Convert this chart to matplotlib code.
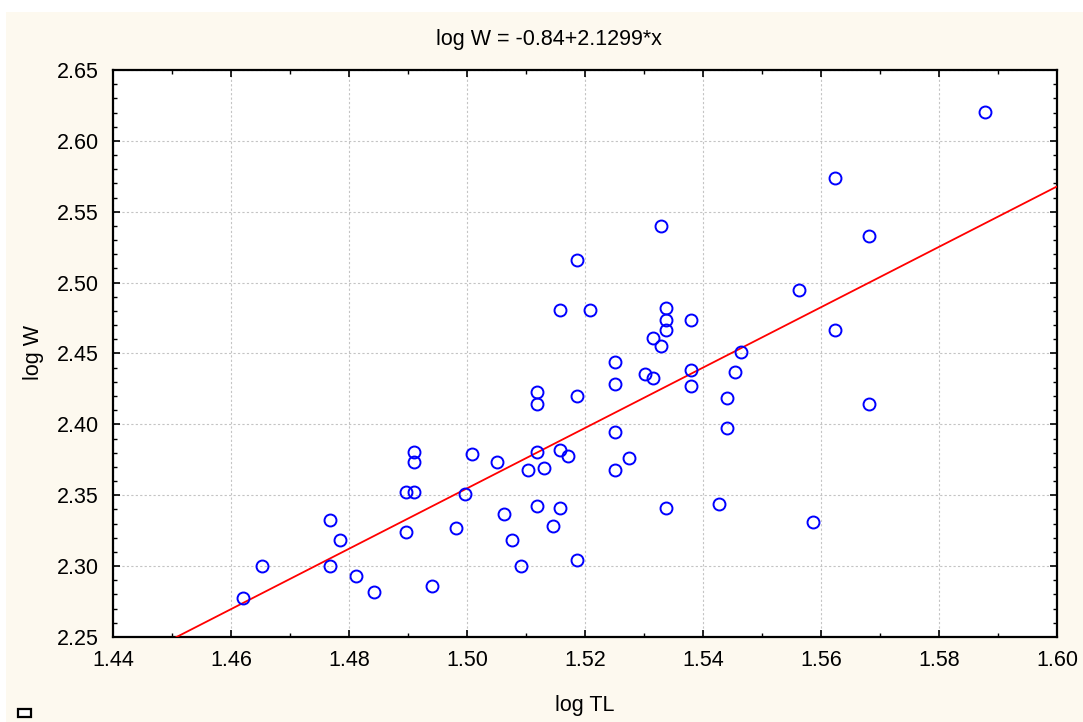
import numpy as np
import matplotlib
matplotlib.use("Agg")
import matplotlib.pyplot as plt
from matplotlib.patches import Rectangle
from matplotlib.ticker import MultipleLocator, FormatStrFormatter

plt.rcParams['font.family'] = ['Liberation Sans', 'DejaVu Sans']

# Log total length vs. log weight
log_tl = [
    1.4621, 1.4653, 1.4768, 1.4768, 1.4785, 1.4812, 1.4843, 1.4897,
    1.4897, 1.4911, 1.4911, 1.4911, 1.4941, 1.4982, 1.4996, 1.5009,
    1.5050, 1.5063, 1.5077, 1.5091, 1.5104, 1.5118, 1.5118, 1.5118,
    1.5118, 1.5131, 1.5145, 1.5158, 1.5158, 1.5158, 1.5172, 1.5186,
    1.5186, 1.5186, 1.5209, 1.5250, 1.5250, 1.5250, 1.5250, 1.5274,
    1.5301, 1.5315, 1.5315, 1.5328, 1.5328, 1.5338, 1.5338, 1.5338,
    1.5338, 1.5379, 1.5379, 1.5379, 1.5427, 1.5440, 1.5440, 1.5454,
    1.5464, 1.5562, 1.5586, 1.5623, 1.5623, 1.5681, 1.5681, 1.5878,
]
log_w = [
    2.2775, 2.3000, 2.3325, 2.3000, 2.3184, 2.2930, 2.2817, 2.3240,
    2.3520, 2.3520, 2.3805, 2.3735, 2.2860, 2.3270, 2.3510, 2.3790,
    2.3735, 2.3368, 2.3184, 2.3000, 2.3678, 2.4228, 2.4144, 2.3805,
    2.3424, 2.3692, 2.3283, 2.4807, 2.3819, 2.3410, 2.3777, 2.5160,
    2.4200, 2.3043, 2.4807, 2.4440, 2.4285, 2.3946, 2.3678, 2.3763,
    2.4355, 2.4610, 2.4327, 2.4553, 2.5400, 2.4820, 2.4736, 2.4666,
    2.3410, 2.4736, 2.4384, 2.4270, 2.3438, 2.4186, 2.3974, 2.4370,
    2.4510, 2.4948, 2.3311, 2.5738, 2.4666, 2.5329, 2.4144, 2.6204,
]

# Fitted regression: log W = a + b * log TL
intercept = -0.84
slope = 2.1299

x_lim = (1.44, 1.60)
y_lim = (2.25, 2.65)

W, H = 1083, 722
fig = plt.figure(figsize=(W / 100, H / 100), dpi=100)
fig.patch.set_facecolor('white')

# cream panel behind the plot
fig.patches.append(Rectangle((6 / W, 0), 1 - 6 / W, 1 - 12 / H,
                             transform=fig.transFigure, facecolor='#fdf9ef',
                             edgecolor='none', zorder=-10))

ax = fig.add_axes([113 / W, (H - 637) / H, 944 / W, 567 / H])
ax.set_facecolor('white')

xs = np.array(x_lim)
ax.plot(xs, intercept + slope * xs, color='red', lw=1.3, zorder=3)
ax.plot(log_tl, log_w, linestyle='none', marker='o', markersize=8.6,
        markerfacecolor='none', markeredgecolor='blue', markeredgewidth=1.4,
        zorder=4)

ax.set_xlim(*x_lim)
ax.set_ylim(*y_lim)
ax.xaxis.set_major_locator(MultipleLocator(0.02))
ax.xaxis.set_minor_locator(MultipleLocator(0.01))
ax.yaxis.set_major_locator(MultipleLocator(0.05))
ax.yaxis.set_minor_locator(MultipleLocator(0.01))
ax.xaxis.set_major_formatter(FormatStrFormatter('%.2f'))
ax.yaxis.set_major_formatter(FormatStrFormatter('%.2f'))

ax.grid(True, which='major', color='#c4c4c4', linestyle=(0, (2, 2)), lw=0.8)
ax.set_axisbelow(True)

FS = 15.5
ax.tick_params(which='both', direction='in', top=True, right=True,
               color='black', labelsize=FS)
ax.tick_params(which='major', length=5, width=1.2)
ax.tick_params(which='minor', length=3, width=1.0)
ax.tick_params(axis='y', pad=10)
ax.tick_params(axis='x', pad=9)
for sp in ax.spines.values():
    sp.set_linewidth(1.6)
    sp.set_color('black')

fig.text(549 / W, 1 - 40 / H, 'log W = -0.84+2.1299*x', ha='center',
         va='center', fontsize=FS)
fig.text(585 / W, 1 - 706 / H, 'log TL', ha='center', va='center', fontsize=FS)
fig.text(33 / W, 1 - 353 / H, 'log W', ha='center', va='center',
         rotation=90, fontsize=FS)

# small legend box marker in the corner
fig.patches.append(Rectangle((18 / W, 1 - 717 / H), 13 / W, 8 / H,
                             transform=fig.transFigure, facecolor='white',
                             edgecolor='black', lw=1.6, zorder=2))

fig.savefig('out.png', dpi=100, facecolor=fig.get_facecolor())
